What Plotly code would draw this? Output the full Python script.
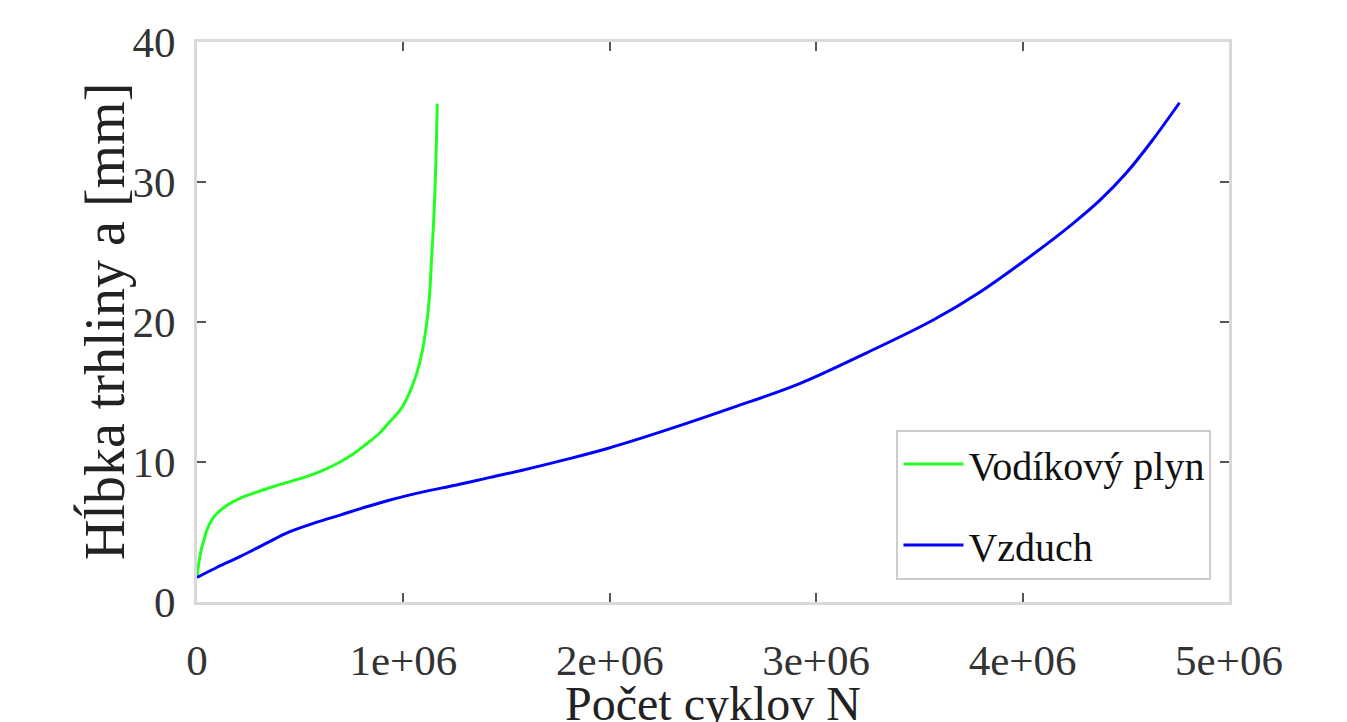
import plotly.graph_objects as go

# Data (N in cycles, a in mm)
n_vodik = [0, 0.006e6, 0.015e6, 0.023e6, 0.035e6, 0.047e6, 0.065e6, 0.095e6, 0.15e6, 0.208e6,
           0.29e6, 0.37e6, 0.45e6, 0.53e6, 0.61e6, 0.693e6, 0.76e6, 0.822e6, 0.88e6, 0.935e6,
           0.984e6, 1.025e6, 1.064e6, 1.09e6, 1.113e6, 1.127e6, 1.137e6, 1.146e6, 1.153e6,
           1.159e6, 1.164e6]
a_vodik = [1.8, 2.5, 3.3, 3.9, 4.5, 5.1, 5.7, 6.3, 6.95, 7.4,
           7.85, 8.25, 8.6, 8.95, 9.4, 10.0, 10.6, 11.3, 12.0, 12.9,
           13.7, 14.8, 16.3, 17.8, 19.9, 22.0, 24.7, 27.0, 29.4,
           32.3, 35.6]

n_vzduch = [0, 0.1e6, 0.208e6, 0.33e6, 0.45e6, 0.57e6, 0.693e6, 0.81e6, 0.935e6, 1.09e6,
            1.258e6, 1.42e6, 1.581e6, 1.78e6, 1.993e6, 2.276e6, 2.598e6, 2.92e6, 3.245e6,
            3.567e6, 3.80e6, 4.02e6, 4.245e6, 4.375e6, 4.50e6, 4.63e6, 4.76e6]
a_vzduch = [1.75, 2.5, 3.24, 4.15, 5.02, 5.65, 6.21, 6.75, 7.29, 7.85,
            8.36, 8.9, 9.43, 10.15, 10.98, 12.29, 13.9, 15.6, 17.8,
            20.14, 22.2, 24.5, 27.05, 28.7, 30.6, 33.0, 35.66]

x_ticks = [0, 1e6, 2e6, 3e6, 4e6, 5e6]
x_ticklabels = ["0", "1e+06", "2e+06", "3e+06", "4e+06", "5e+06"]
y_ticks = [0, 10, 20, 30, 40]
y_ticklabels = ["0", "10", "20", "30", "40"]
x_title = "Počet cyklov N"
y_title = "Hĺbka trhliny a [mm]"

FONT = "Liberation Serif, Times New Roman, DejaVu Serif, serif"

fig = go.Figure()
fig.add_trace(go.Scatter(x=n_vodik, y=a_vodik, mode="lines", name="Vodíkový plyn",
                         line=dict(color="#22ff22", width=3, shape="spline", smoothing=1.0),
                         legendgroup="g1"))
fig.add_trace(go.Scatter(x=n_vzduch, y=a_vzduch, mode="lines", name="Vzduch",
                         line=dict(color="#0000ff", width=3, shape="spline", smoothing=1.0),
                         legendgroup="g2"))

axis_common = dict(
    showgrid=False, zeroline=False,
    showline=True, linecolor="#d9d9d9", linewidth=3, mirror="ticks",
    ticks="inside", ticklen=9, tickwidth=2, tickcolor="#555555",
    tickfont=dict(family=FONT, size=43, color="#333333"),
)

fig.update_xaxes(range=[0, 5e6], tickvals=x_ticks, ticktext=x_ticklabels,
                 ticklabelstandoff=18, automargin=False, **axis_common)
fig.update_yaxes(range=[0, 40], tickvals=y_ticks, ticktext=y_ticklabels,
                 ticklabelstandoff=10, automargin=False, **axis_common)

# Axis titles as annotations so they can sit as low / far out as in the reference
fig.add_annotation(text=x_title, xref="paper", yref="paper", x=0.5, y=-0.13,
                   xanchor="center", yanchor="top", showarrow=False,
                   font=dict(family=FONT, size=48, color="#222222"))
fig.add_annotation(text=y_title, xref="paper", yref="paper", x=-0.09, y=0.5,
                   xanchor="center", yanchor="middle", showarrow=False, textangle=-90,
                   font=dict(family=FONT, size=56, color="#222222"))

fig.update_layout(
    width=1347, height=722,
    margin=dict(l=197, r=118, t=42, b=120),
    paper_bgcolor="white", plot_bgcolor="white",
    legend=dict(x=0.983, xanchor="right", y=0.04, yanchor="bottom",
                bordercolor="#cccccc", borderwidth=2, bgcolor="white",
                font=dict(family=FONT, size=40, color="#111111"),
                itemwidth=60, tracegroupgap=26, traceorder="grouped"),
    showlegend=True,
)

fig.write_html("out.html")
